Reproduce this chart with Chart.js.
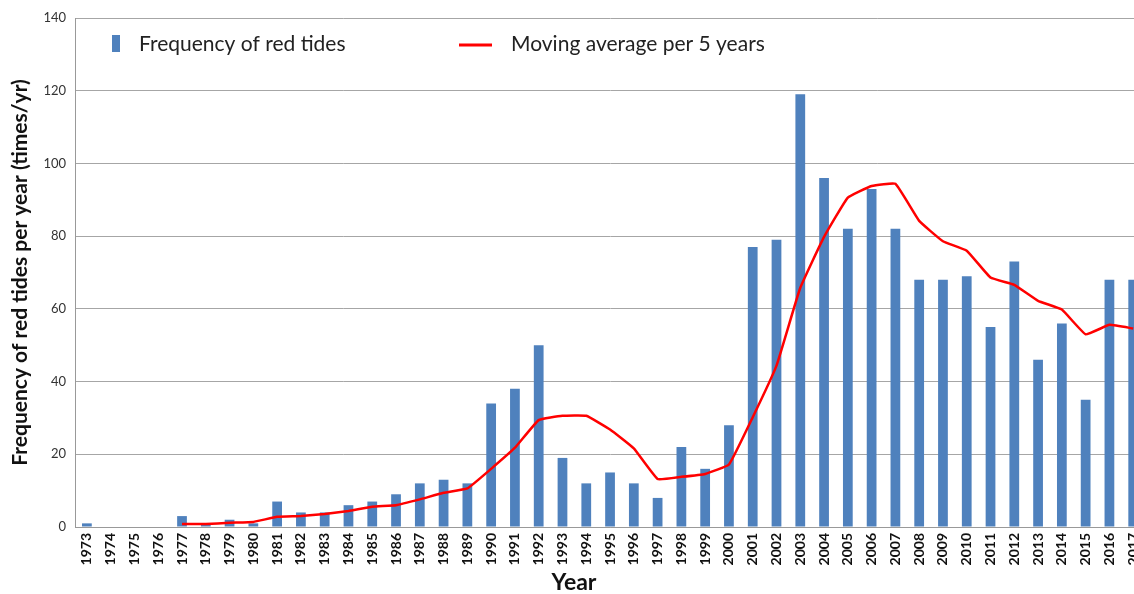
<!DOCTYPE html>
<html>
<head>
<meta charset="utf-8">
<script src="https://cdn.jsdelivr.net/npm/chart.js@4"></script>
<style>
  html, body { margin: 0; padding: 0; overflow: hidden; background: #fff; }
  #wrap { width: 1156px; height: 594px; }
</style>
</head>
<body>
<div id="wrap"><canvas id="tideChart"></canvas></div>
<script>
const years = ['1973','1974','1975','1976','1977','1978','1979','1980','1981','1982',
  '1983','1984','1985','1986','1987','1988','1989','1990','1991','1992',
  '1993','1994','1995','1996','1997','1998','1999','2000','2001','2002',
  '2003','2004','2005','2006','2007','2008','2009','2010','2011','2012',
  '2013','2014','2015','2016','2017'];

const frequency = [1, 0, 0, 0, 3, 1, 2, 1, 7, 4,
  4, 6, 7, 9, 12, 13, 12, 34, 38, 50,
  19, 12, 15, 12, 8, 22, 16, 28, 77, 79,
  119, 96, 82, 93, 82, 68, 68, 69, 55, 73,
  46, 56, 35, 68, 68];

const movingAvg = [null, null, null, null, 0.8, 0.8, 1.2, 1.4, 2.8, 3.0,
  3.6, 4.4, 5.6, 6.0, 7.6, 9.4, 10.6, 16.0, 21.8, 29.4,
  30.6, 30.6, 26.8, 21.6, 13.2, 13.8, 14.6, 17.2, 30.2, 44.4,
  65.8, 79.8, 90.6, 93.8, 94.4, 84.2, 78.6, 76.0, 68.6, 66.6,
  62.2, 59.8, 53.0, 55.6, 54.6];

const xTitle = 'Year';
const yTitle = 'Frequency of red tides per year (times/yr)';

const font = 'Lato, "Open Sans", sans-serif';

// legend sits inside the plot area and the x title is off-centre, like the original
const extras = {
    id: 'extras',
    afterDraw(chart) {
        const c = chart.ctx;
        const ds = chart.data.datasets;
        c.save();
        c.font = '21px ' + font;
        c.textBaseline = 'middle';
        c.fillStyle = ds[0].backgroundColor;
        c.fillRect(112, 35, 8, 17);
        c.fillStyle = '#222';
        c.fillText(ds[0].label, 139, 44);
        c.strokeStyle = ds[1].borderColor;
        c.lineWidth = 3;
        c.beginPath();
        c.moveTo(459, 45);
        c.lineTo(492, 45);
        c.stroke();
        c.fillText(ds[1].label, 511, 44);

        c.font = 'bold 23px ' + font;
        c.fillStyle = '#111';
        c.textAlign = 'center';
        c.fillText(xTitle, 574, 583);
        c.restore();
    }
};

const ctx = document.getElementById('tideChart').getContext('2d');
const tideChart = new Chart(ctx, {
    data: {
        labels: years,
        datasets: [{
            type: 'bar',
            label: 'Frequency of red tides',
            data: frequency,
            backgroundColor: '#4F81BD',
            categoryPercentage: 1,
            barPercentage: 0.41,
            order: 2
        }, {
            type: 'line',
            label: 'Moving average per 5 years',
            data: movingAvg,
            borderColor: '#FF0000',
            borderWidth: 2.5,
            pointRadius: 0,
            tension: 0.1,
            fill: false,
            order: 1
        }]
    },
    options: {
        responsive: true,
        maintainAspectRatio: false,
        animation: false,
        layout: { padding: { top: 18, right: 0, left: 0, bottom: 0 } },
        plugins: {
            legend: { display: false },
            tooltip: { enabled: false }
        },
        scales: {
            x: {
                grid: { display: false, drawTicks: false },
                border: { color: '#999' },
                ticks: {
                    autoSkip: false,
                    minRotation: 90,
                    maxRotation: 90,
                    color: '#111',
                    padding: 6,
                    font: { family: font, size: 14, weight: 'bold' }
                },
                afterFit(s) { s.height = 67; }
            },
            y: {
                min: 0,
                max: 140,
                ticks: {
                    stepSize: 20,
                    color: '#333',
                    padding: 9,
                    font: { family: font, size: 13 }
                },
                grid: { color: '#a6a6a6', lineWidth: 1, drawTicks: false },
                border: { color: '#999' },
                title: {
                    display: true,
                    text: yTitle,
                    color: '#111',
                    padding: { top: 8, bottom: 0 },
                    font: { family: font, size: 21, weight: 'bold' }
                },
                afterFit(s) { s.width = 75; }
            }
        }
    },
    plugins: [extras]
});
</script>
</body>
</html>
